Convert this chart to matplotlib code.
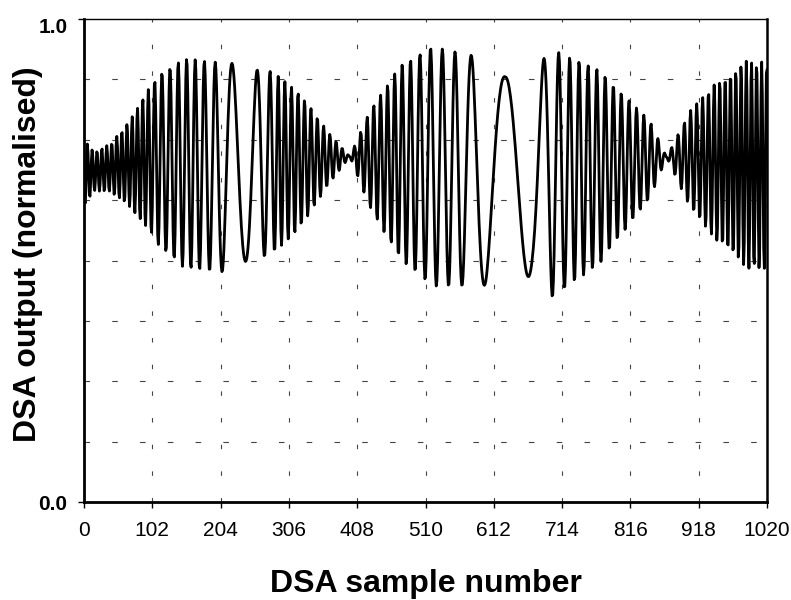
import numpy as np
import matplotlib
matplotlib.use("Agg")
import matplotlib.pyplot as plt
from matplotlib.transforms import ScaledTranslation

plt.rcParams['font.family'] = ['Liberation Sans', 'DejaVu Sans']

# Sample index axis
n_samples = 1021
x_ticks = [0, 102, 204, 306, 408, 510, 612, 714, 816, 918, 1020]

# Envelope of the DSA trace (half peak-to-peak) at sample positions
amp_pos = [0, 15, 40, 69, 113, 150, 215, 240, 280, 322, 367, 397, 427, 472, 520, 600, 629, 670, 700, 770, 800, 845, 870, 905, 945, 990, 1020]
amp_val = [0.07, 0.04, 0.05, 0.09, 0.18, 0.217, 0.217, 0.20, 0.19, 0.14, 0.05, 0.0, 0.10, 0.20, 0.248, 0.235, 0.20, 0.216, 0.256, 0.20, 0.15, 0.08, 0.0, 0.10, 0.165, 0.215, 0.215]

# Mid level of the trace
mid_pos = [0, 100, 200, 397, 550, 630, 700, 870, 1020]
mid_val = [0.68, 0.71, 0.693, 0.715, 0.69, 0.68, 0.68, 0.714, 0.695]

# Apparent oscillation period (samples per cycle)
per_pos = [0, 90, 120, 170, 198, 221, 240, 266, 290, 397, 470, 520, 560, 585, 629, 670, 686, 700, 730, 790, 870, 960, 1020]
per_val = [7, 8, 12, 13, 18, 35, 45, 20, 10, 9, 11, 17, 20, 36, 76, 60, 32, 20, 14, 12, 10, 8, 7.5]

# Samples at which the slow swings reach their crest
crest_pos = [221, 629]

n = np.arange(n_samples)
amp = np.interp(n, amp_pos, amp_val)
mid = np.interp(n, mid_pos, mid_val)
period = np.interp(n, per_pos, per_val)
phase = 2 * np.pi * np.cumsum(1.0 / period)

# shift the phase so each crest sample sits on a whole cycle
two_pi = 2 * np.pi
shift = [two_pi * np.round(phase[c] / two_pi) - phase[c] for c in crest_pos]
phase = phase + np.interp(n, crest_pos, shift)
dsa = mid + amp * np.cos(phase)

fig = plt.figure(figsize=(7.91, 6.00), dpi=100)
ax = fig.add_axes([0.1062, 0.1633, 0.8635, 0.805])

ax.plot(n, dsa, color='black', lw=2.0, zorder=3)

ax.set_xlim(0, 1020)
ax.set_ylim(0, 1.0)
ax.set_xticks(x_ticks)
ax.set_xticklabels([str(t) for t in x_ticks], fontsize=15)
ax.set_yticks([0.0, 1.0])
ax.set_yticklabels(['0.0', '1.0'], fontsize=15, fontweight='bold')
ax.set_yticks(np.arange(0.125, 1.0, 0.125), minor=True)
ax.tick_params(axis='y', which='minor', length=0)
ax.tick_params(axis='x', which='major', length=4, width=1, direction='out', pad=10)
ax.tick_params(axis='y', which='major', length=4, width=1, direction='out', pad=8)

# top label sits just below the frame edge
top_label = ax.get_yticklabels()[1]
top_label.set_transform(top_label.get_transform() + ScaledTranslation(0, -6 / 100, fig.dpi_scale_trans))

ax.grid(True, which='major', axis='x', color='#444444', lw=0.8, linestyle=(0, (4, 20)))
ax.grid(True, which='minor', axis='y', color='#444444', lw=0.8, linestyle=(0, (5, 20)))

for side in ['left', 'bottom']:
    ax.spines[side].set_linewidth(2.0)
ax.spines['right'].set_linewidth(1.8)
ax.spines['top'].set_linewidth(1.0)

ax.set_xlabel('DSA sample number', fontsize=23, fontweight='bold')
ax.xaxis.set_label_coords(0.5007, -0.138)
ax.set_ylabel('DSA output (normalised)', fontsize=23, fontweight='bold')
ax.yaxis.set_label_coords(-0.060, 0.513)

fig.savefig('out.png', dpi=100)
